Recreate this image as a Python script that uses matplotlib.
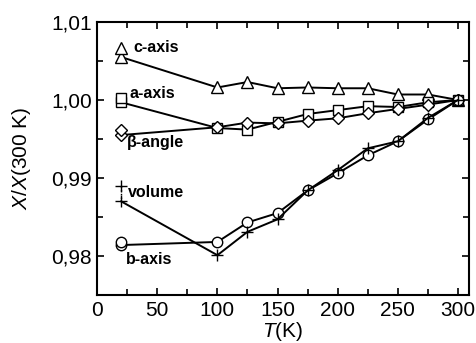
import numpy as np
import matplotlib.pyplot as plt
from matplotlib.ticker import MultipleLocator, FormatStrFormatter, FuncFormatter

plt.rcParams['font.family'] = ['Liberation Sans', 'DejaVu Sans']
plt.rcParams['mathtext.fontset'] = 'custom'
plt.rcParams['mathtext.it'] = 'Liberation Sans:italic'
plt.rcParams['mathtext.rm'] = 'Liberation Sans'

T = [20, 100, 125, 150, 175, 200, 225, 250, 275, 300]

c_axis = [1.0055, 1.0016, 1.0023, 1.0015, 1.0016, 1.0015, 1.0015, 1.0007, 1.0007, 1.0000]
a_axis = [0.9997, 0.9964, 0.9962, 0.9972, 0.9982, 0.9987, 0.9992, 0.9991, 0.9997, 1.0000]
beta = [0.9955, 0.9965, 0.9971, 0.9970, 0.99735, 0.99765, 0.9983, 0.99885, 0.9994, 1.0000]
b_axis = [0.9814, 0.9818, 0.9843, 0.9855, 0.9884, 0.9906, 0.9929, 0.9947, 0.9975, 1.0000]
volume = [0.9870, 0.9801, 0.9831, 0.9847, 0.9884, 0.9910, 0.9938, 0.9947, 0.9977, 1.0000]

# second point measured at 20 K
T2 = 20
c_axis2 = 1.0067
a_axis2 = 1.0003
beta2 = 0.9962
b_axis2 = 0.9818
volume2 = 0.9890

fig = plt.figure(figsize=(4.76, 3.43), dpi=100)
ax = fig.add_axes([0.204, 0.140, 0.781, 0.796])

sty = dict(color='black', lw=1.4, mfc='white', mec='black', mew=1.0)
ax.plot([T2, T[0]], [volume2, volume[0]], ':', color='black', lw=1.0)
for y, y2, m, ms in [(c_axis, c_axis2, '^', 8), (a_axis, a_axis2, 's', 6.5),
                     (beta, beta2, 'D', 6), (b_axis, b_axis2, 'o', 7.5),
                     (volume, volume2, '+', 9)]:
    ax.plot(T, y, marker=m, ms=ms, **sty)
    ax.plot([T2], [y2], marker=m, ms=ms, ls='none', **sty)

tk = dict(fontsize=11.5, fontweight='bold', va='center', ha='left')
ax.text(30, 1.0067, 'c-axis', **tk)
ax.text(27, 1.0008, 'a-axis', **tk)
ax.text(25, 0.9945, 'β-angle', **tk)
ax.text(26, 0.9881, 'volume', **tk)
ax.text(24, 0.9796, 'b-axis', **tk)

ax.set_xlim(0, 309)
ax.set_ylim(0.975, 1.01)
ax.xaxis.set_major_locator(MultipleLocator(50))
ax.xaxis.set_minor_locator(MultipleLocator(25))
ax.yaxis.set_major_locator(MultipleLocator(0.01))
ax.yaxis.set_minor_locator(MultipleLocator(0.005))
ax.yaxis.set_major_formatter(FuncFormatter(lambda v, p: ('%.2f' % v).replace('.', ',')))
ax.tick_params(which='both', direction='in', top=True, right=True, width=1.2, labelsize=15)
ax.tick_params(axis='x', which='major', pad=4.5)
ax.tick_params(which='major', length=5)
ax.tick_params(which='minor', length=4)
for s in ax.spines.values():
    s.set_linewidth(1.5)

ax.set_xlabel('$T$(K)', fontsize=15, labelpad=0)
ax.set_ylabel('$X$/$X$(300 K)', fontsize=15, labelpad=13)

fig.savefig('out.png', dpi=100)
